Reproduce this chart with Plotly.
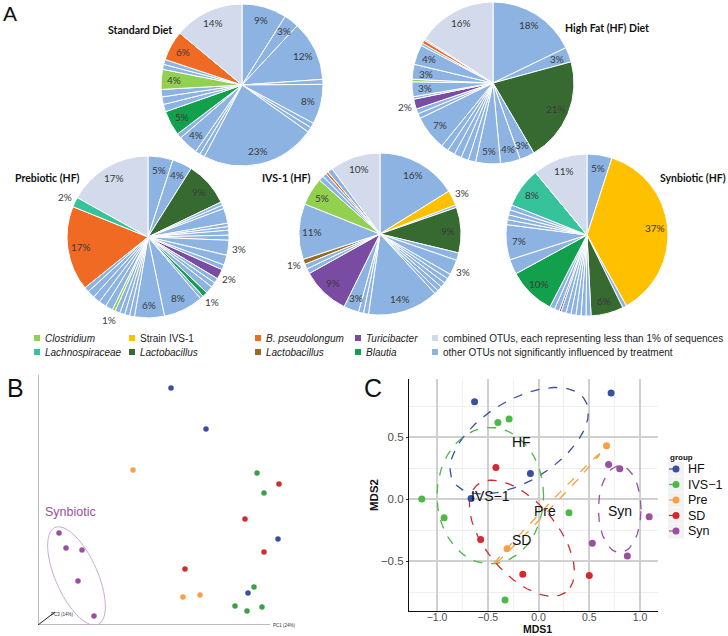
import numpy as np
import plotly.graph_objects as go

W, H = 728, 636


def X(px):
    return px / W


def Y(py):
    return 1 - py / H


# ---------------- DATA ----------------
# Panel A pies (slice values in %, clockwise from 12 o'clock)
SD_vals = [9, 3, 12, 1, 8, 1, 1, 23, 1, 1, 4, 1, 5, 1.5, 1.5, 1.5, 4, 1, 1, 6, 14]
SD_cats = ['o', 'o', 'o', 'o', 'o', 'o', 'o', 'o', 'o', 'o', 'o', 'o', 'bla', 'o', 'o', 'o', 'clo', 'o', 'o', 'bps', 'comb']
SD_text = ['9%', '3%', '12%', '', '8%', '', '', '23%', '', '', '4%', '', '5%', '', '', '', '4%', '', '', '6%', '14%']

HF_vals = [18, 3, 21, 3, 4, 5, 1.5, 1.5, 1.5, 1.5, 1.5, 7, 1, 1, 2, 0.5, 3, 0.5, 3, 4, 0.5, 0.7, 0.3, 16]
HF_cats = ['o', 'o', 'lac', 'o', 'o', 'o', 'o', 'o', 'o', 'o', 'o', 'o', 'o', 'o', 'tur', 'o', 'o', 'clo', 'o', 'o', 'o', 'bps', 'o', 'comb']
HF_text = ['18%', '3%', '21%', '3%', '4%', '5%', '', '', '', '', '', '7%', '', '', '2%', '', '3%', '', '3%', '4%', '', '', '', '16%']

PRE_vals = [5, 4, 9, 0.7, 0.7, 3, 0.7, 0.7, 1, 1, 3, 2, 1, 2, 1, 1, 1.5, 1, 0.7, 8, 6, 1, 1, 1, 1, 0.6, 1.5, 1.5, 1.5, 1.5, 1, 17, 2, 17]
PRE_cats = ['o', 'o', 'lac', 'o', 'o', 'o', 'o', 'o', 'o', 'o', 'o', 'o', 'o', 'tur', 'o', 'o', 'o', 'bla', 'o', 'o', 'o', 'o', 'o', 'o', 'o', 'clo', 'o', 'o', 'o', 'o', 'o', 'bps', 'lach', 'comb']
PRE_text = ['5%', '4%', '9%', '', '', '', '', '', '', '', '3%', '', '', '2%', '', '', '', '1%', '', '8%', '6%', '', '', '', '', '1%', '', '', '', '', '', '17%', '2%', '17%']

IVS_vals = [16, 3, 0.5, 9, 1.5, 3, 1, 1, 1, 1, 0.8, 14, 1, 1, 3, 9.5, 1, 1, 1, 11, 5.5, 1, 0.8, 0.5, 1, 10]
IVS_cats = ['o', 'ivs', 'o', 'lac', 'o', 'o', 'o', 'o', 'o', 'o', 'o', 'o', 'o', 'o', 'o', 'tur', 'o', 'o', 'lacb', 'o', 'clo', 'o', 'o', 'bps', 'o', 'comb']
IVS_text = ['16%', '3%', '', '9%', '', '3%', '', '', '', '', '', '14%', '', '', '3%', '9%', '', '', '1%', '11%', '5%', '', '', '', '', '10%']

SYN_vals = [5, 37, 0.8, 6.5, 1, 1, 1, 1, 1, 1, 0.4, 1, 1, 9.5, 3, 7, 1, 1, 1, 1, 8, 11]
SYN_cats = ['o', 'ivs', 'o', 'lac', 'o', 'o', 'o', 'o', 'o', 'o', 'tur', 'o', 'o', 'bla', 'o', 'o', 'o', 'o', 'o', 'o', 'lach', 'comb']
SYN_text = ['5%', '37%', '', '6%', '', '', '', '', '', '', '', '', '', '10%', '', '7%', '', '', '', '', '8%', '11%']

LEGEND_A = [('clo', 'Clostridium', True), ('ivs', 'Strain IVS-1', False), ('bps', 'B. pseudolongum', True),
            ('tur', 'Turicibacter', True), ('comb', 'combined OTUs, each representing less than 1% of sequences', False),
            ('lach', 'Lachnospiraceae', True), ('lac', 'Lactobacillus', True), ('lacb', 'Lactobacillus', True),
            ('bla', 'Blautia', True), ('o', 'other OTUs not significantly influenced by treatment', False)]

# Panel B (PCoA projection, arbitrary units)
B_groups = ['HF', 'Pre', 'IVS', 'SD', 'Syn']
B_x = {'HF': [133, 168, 240, 210], 'Pre': [95, 145, 162], 'IVS': [219, 226, 216, 197, 209, 224],
       'SD': [241, 207, 226, 147], 'Syn': [21, 28, 44, 40, 56]}
B_y = {'HF': [237, 196, 86, 32], 'Pre': [155, 28, 30], 'IVS': [152, 132, 38, 19, 14, 18],
       'SD': [141, 106, 73, 56], 'Syn': [92, 77, 75, 44, 9]}

# Panel C (NMDS)
C_groups = ['HF', 'IVS−1', 'Pre', 'SD', 'Syn']
C_x = {'HF': [-0.63, 0.715, -0.08, -0.665], 'IVS−1': [-0.40, -0.29, -1.15, -0.93, 0.30, -0.33],
       'Pre': [0.67, -0.31], 'SD': [-0.42, -0.57, -0.155, 0.50], 'Syn': [0.69, 0.80, 1.09, 0.53, 0.875]}
C_y = {'HF': [0.785, 0.855, 0.206, 0.005], 'IVS−1': [0.617, 0.646, 0.0, -0.15, -0.11, -0.815],
       'Pre': [0.43, -0.40], 'SD': [0.255, -0.327, -0.606, -0.617], 'Syn': [0.279, 0.244, -0.142, -0.357, -0.46]}
# ellipse parameters: centre x, centre y, semi-axis a, semi-axis b, rotation (deg)
C_ell = {'HF': (-0.19, 0.47, 0.73, 0.34, 24), 'IVS−1': (-0.475, 0.027, 0.525, 0.55, 0),
         'Pre': (0.074, -0.088, 0.70, 0.02, 40.5), 'SD': (-0.164, -0.316, 0.62, 0.32, -40),
         'Syn': (0.80, -0.083, 0.21, 0.35, 0)}
C_lab = {'HF': (-0.164, 0.46), 'IVS−1': (-0.475, 0.024), 'Pre': (0.066, -0.094), 'SD': (-0.164, -0.33),
         'Syn': (0.80, -0.094)}

# ---------------- STYLE ----------------
PC = {'o': '#8DB3E2', 'comb': '#D2DAEC', 'clo': '#92D050', 'lach': '#36C39C', 'ivs': '#FFC000',
      'lac': '#376A30', 'bps': '#F06A24', 'lacb': '#9A6A22', 'tur': '#7A4BA3', 'bla': '#12A04C'}
GC = {'HF': '#3A4FA3', 'IVS−1': '#4DB848', 'IVS': '#3E9E45', 'Pre': '#F7A044', 'SD': '#D42A2E', 'Syn': '#9B4FA0'}

fig = go.Figure()
ann = []
shapes = []


def txt(x, y, text, size, color='#111', family='Liberation Sans', xanchor='center', ref=('paper', 'paper'), **kw):
    ann.append(dict(x=x, y=y, xref=ref[0], yref=ref[1], text=text, showarrow=False, xanchor=xanchor,
                    yanchor=kw.pop('yanchor', 'middle'), font=dict(family=family, size=size, color=color), **kw))


pies = [
    (SD_vals, SD_cats, SD_text, set(), 242, 85, 81, 'Standard Diet', 140, 30),
    (HF_vals, HF_cats, HF_text, {14}, 493, 83, 81, 'High Fat (HF) Diet', 607, 28),
    (PRE_vals, PRE_cats, PRE_text, {10, 13, 17, 25, 32}, 148, 237, 81, 'Prebiotic (HF)', 47, 178),
    (IVS_vals, IVS_cats, IVS_text, {1, 5, 18}, 380, 234, 81, 'IVS-1 (HF)', 286, 178),
    (SYN_vals, SYN_cats, SYN_text, set(), 587, 235, 81, 'Synbiotic (HF)', 693, 178),
]
for vals, cats, texts, outside, cx, cy, r, title, tx, ty in pies:
    fig.add_trace(go.Pie(values=vals, marker=dict(colors=[PC[c] for c in cats], line=dict(color='white', width=1)),
                         sort=False, direction='clockwise', rotation=0, textinfo='none', hoverinfo='skip',
                         showlegend=False,
                         domain=dict(x=[X(cx - r), X(cx + r)], y=[Y(cy + r), Y(cy - r)])))
    total = float(sum(vals))
    cum = np.cumsum([0] + vals[:-1])
    for i, t in enumerate(texts):
        if not t:
            continue
        th = (cum[i] + vals[i] / 2) / total * 2 * np.pi
        rf = 1.13 if i in outside else 0.84
        px = cx + rf * r * np.sin(th)
        py = cy - rf * r * np.cos(th)
        txt(X(px), Y(py), t, 10, '#3A3A3A', 'Lato')
    txt(X(tx), Y(ty), '<b>%s</b>' % title, 10.5, '#111', 'Lato')

# legend of panel A
cols = [37, 132, 258, 358, 435]
rows = [338, 352]
for k, (c, lab, it) in enumerate(LEGEND_A):
    sx = cols[k % 5]
    sy = rows[k // 5]
    shapes.append(dict(type='rect', xref='paper', yref='paper', x0=X(sx - 3), x1=X(sx + 3), y0=Y(sy + 3),
                       y1=Y(sy - 3), fillcolor=PC[c], line=dict(width=0)))
    txt(X(sx + 6), Y(sy), ('<i>%s</i>' % lab) if it else lab, 10, '#222', xanchor='left')

# panel letters
for L, lx, ly, s in [('A', 10, 14, 21), ('B', 15, 388, 25), ('C', 373, 388, 25)]:
    txt(X(lx), Y(ly), L, s, '#111')

# ---------------- Panel B ----------------
for g in B_groups:
    fig.add_trace(go.Scatter(x=B_x[g], y=B_y[g], mode='markers', xaxis='x2', yaxis='y2', showlegend=False,
                             hoverinfo='skip', marker=dict(size=5.5, color=GC[g])))
shapes.append(dict(type='line', xref='x2', yref='y2', x0=0, y0=0, x1=0, y1=250, line=dict(color='#777', width=1)))
shapes.append(dict(type='line', xref='x2', yref='y2', x0=0, y0=0, x1=232, y1=0, line=dict(color='#777', width=1)))
shapes.append(dict(type='line', xref='x2', yref='y2', x0=0, y0=0, x1=17, y1=13, line=dict(color='#222', width=1)))
t = np.linspace(0, 2 * np.pi, 80)
ecx, ecy, ea, eb, eth = 38.5, 49, 53, 21, np.deg2rad(114)
ex = ecx + ea * np.cos(t) * np.cos(eth) - eb * np.sin(t) * np.sin(eth)
ey = ecy + ea * np.cos(t) * np.sin(eth) + eb * np.sin(t) * np.cos(eth)
path = 'M ' + ' L '.join('%.2f,%.2f' % (a, b) for a, b in zip(ex, ey)) + ' Z'
shapes.append(dict(type='path', xref='x2', yref='y2', path=path, line=dict(color='#CDA8D0', width=1)))
for tt, xx, yy in [('PC2 (18%)', 9, 251), ('PC1 (24%)', 246, 0), ('PC3 (14%)', 24, 11)]:
    txt(xx, yy, tt, 4.5, '#333', ref=('x2', 'y2'))
txt(32, 113, 'Synbiotic', 12.5, '#9B4FA0', ref=('x2', 'y2'))

# ---------------- Panel C ----------------
for g in C_groups:
    cx_, cy_, a, b, th = C_ell[g]
    th = np.deg2rad(th)
    t = np.linspace(0, 2 * np.pi, 120)
    ex = cx_ + a * np.cos(t) * np.cos(th) - b * np.sin(t) * np.sin(th)
    ey = cy_ + a * np.cos(t) * np.sin(th) + b * np.sin(t) * np.cos(th)
    fig.add_trace(go.Scatter(x=ex, y=ey, mode='lines', line=dict(color=GC[g], width=1.3, dash='dash'),
                             showlegend=False, hoverinfo='skip'))
for g in C_groups:
    fig.add_trace(go.Scatter(x=C_x[g], y=C_y[g], mode='markers', name=g, showlegend=False,
                             marker=dict(size=7, color=GC[g]), hoverinfo='skip'))
    lx, ly = C_lab[g]
    txt(lx, ly, g, 14, '#111', ref=('x', 'y'))

# manual ggplot-style legend for panel C
txt(X(668), Y(457), '<b>group</b>', 8, '#111', xanchor='left')
for i, g in enumerate(C_groups):
    yy = 469 + 15.5 * i
    shapes.append(dict(type='rect', xref='paper', yref='paper', x0=X(668), x1=X(684), y0=Y(yy + 7.5),
                       y1=Y(yy - 7.5), fillcolor='#F2F2F2', line=dict(width=0)))
    shapes.append(dict(type='line', xref='paper', yref='paper', x0=X(669), x1=X(683), y0=Y(yy), y1=Y(yy),
                       line=dict(color=GC[g], width=1.2, dash='dash')))
    shapes.append(dict(type='circle', xref='paper', yref='paper', x0=X(672.5), x1=X(679.5), y0=Y(yy + 3.5),
                       y1=Y(yy - 3.5), fillcolor=GC[g], line=dict(width=0)))
    txt(X(686), Y(yy), g, 12.5, '#111', xanchor='left')

txt(X(537), Y(636), '<b>MDS1</b>', 10.5, '#111', yanchor='bottom', borderpad=0)
txt(X(374), Y(495), '<b>MDS2</b>', 11.5, '#111', textangle=-90)

fig.update_layout(
    width=W, height=H, margin=dict(l=0, r=0, t=0, b=0),
    paper_bgcolor='white', plot_bgcolor='white', showlegend=False,
    annotations=ann, shapes=shapes,
    xaxis=dict(domain=[X(409), X(658)], range=[-1.276, 1.177], tickvals=[-1.0, -0.5, 0.0, 0.5, 1.0],
               ticktext=['−1.0', '−0.5', '0.0', '0.5', '1.0'],
               showgrid=True, gridcolor='#D0D0D0', gridwidth=1.5, zeroline=False,
               minor=dict(tickvals=[-0.75, -0.25, 0.25, 0.75], showgrid=True, gridcolor='#EFEFEF', gridwidth=0.8),
               showline=True, linecolor='#111', linewidth=1.2, ticks='', ticklabelstandoff=-4,
               tickfont=dict(family='Liberation Sans', size=10.5, color='#4D4D4D'), anchor='y'),
    yaxis=dict(domain=[Y(611), Y(379)], range=[-0.903, 0.968], tickvals=[-0.5, 0.0, 0.5],
               ticktext=['−0.5', '0.0', '0.5'],
               showgrid=True, gridcolor='#D0D0D0', gridwidth=1.5, zeroline=False,
               minor=dict(tickvals=[-0.75, -0.25, 0.25, 0.75], showgrid=True, gridcolor='#EFEFEF', gridwidth=0.8),
               showline=True, linecolor='#111', linewidth=1.2, ticks='outside', ticklen=2, tickcolor='#333',
               tickfont=dict(family='Liberation Sans', size=11.5, color='#4D4D4D'), anchor='x'),
    xaxis2=dict(domain=[X(38), X(300)], range=[0, 262], visible=False, anchor='y2'),
    yaxis2=dict(domain=[Y(625), Y(375)], range=[0, 250], visible=False, anchor='x2'),
)

fig.write_html('out.html', config={'displayModeBar': False},
               post_script="document.body.style.margin='0';document.body.style.padding='0';")
